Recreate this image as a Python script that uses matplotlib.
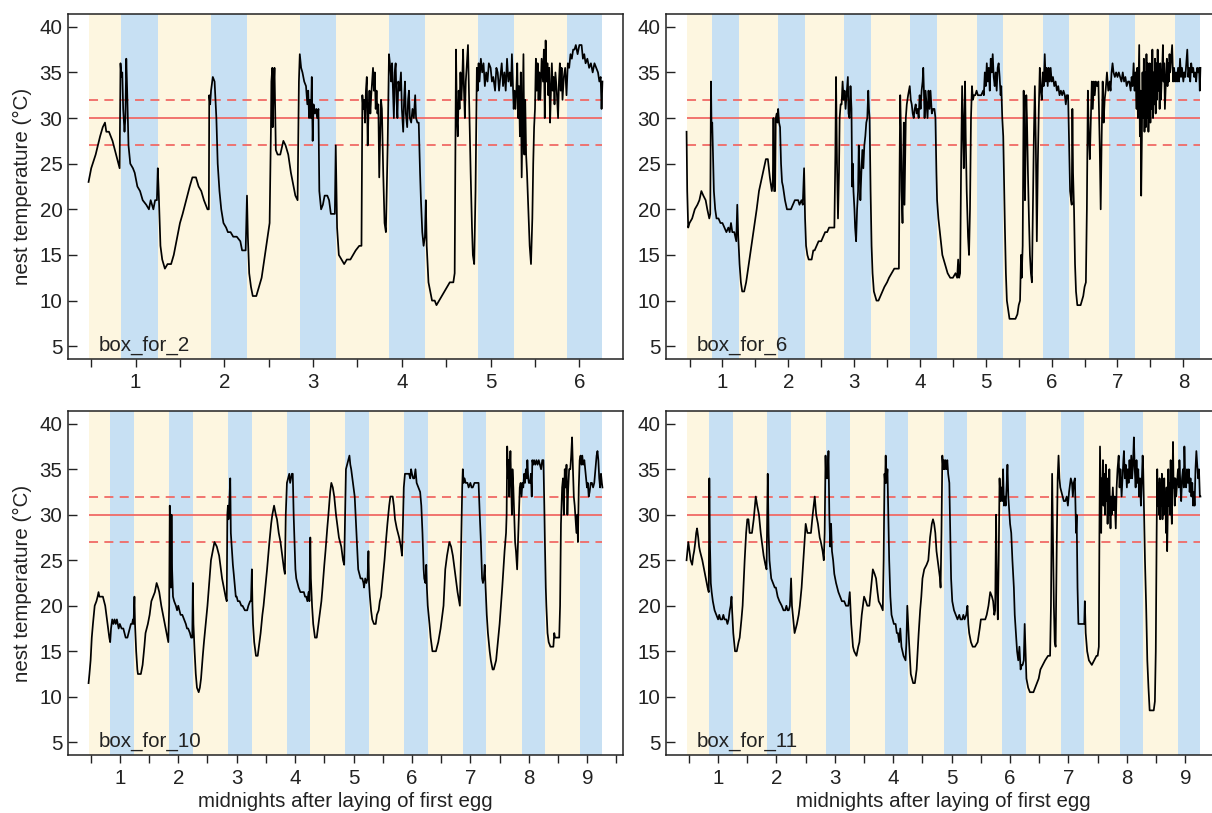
import matplotlib
matplotlib.use('Agg')
import matplotlib.pyplot as plt
import numpy as np

plt.rcParams['font.family'] = ['Liberation Sans', 'DejaVu Sans']

# nest temperature traces, (days after midnight of first egg, degC)
box_for_2 = [
    (0.47, 23.0), (0.50, 24.5), (0.55, 26.0), (0.60, 28.0), (0.63, 29.0), (0.655, 29.5), (0.67, 28.5),
    (0.70, 28.5), (0.74, 27.5), (0.78, 26.0), (0.82, 24.5), (0.83, 36.0), (0.84, 34.5), (0.85, 35.0),
    (0.86, 31.0), (0.875, 28.5), (0.885, 30.0), (0.895, 36.5), (0.905, 33.0), (0.92, 27.0), (0.94, 25.0),
    (0.97, 24.5), (0.99, 24.0), (1.02, 22.5), (1.05, 22.0), (1.08, 21.0), (1.12, 20.5), (1.15, 20.0),
    (1.17, 21.0), (1.20, 20.0), (1.22, 21.0), (1.24, 21.0), (1.25, 24.5), (1.26, 22.0), (1.28, 16.0),
    (1.30, 14.5), (1.33, 13.5), (1.36, 14.0), (1.40, 14.0), (1.43, 15.0), (1.47, 17.0), (1.50, 18.5),
    (1.53, 19.5), (1.57, 21.0), (1.61, 22.5), (1.64, 23.5), (1.68, 23.5), (1.71, 22.5), (1.74, 22.0),
    (1.77, 21.0), (1.81, 20.0), (1.825, 20.0), (1.83, 32.5), (1.84, 31.5), (1.85, 33.0), (1.87, 34.5),
    (1.89, 34.0), (1.91, 30.0), (1.925, 25.0), (1.945, 22.0), (1.965, 20.0), (1.99, 18.5), (2.02, 18.0),
    (2.04, 17.5), (2.07, 17.5), (2.10, 17.0), (2.14, 17.0), (2.18, 16.5), (2.20, 15.5), (2.24, 15.5),
    (2.255, 21.5), (2.265, 17.0), (2.28, 13.0), (2.30, 11.5), (2.32, 10.5), (2.36, 10.5), (2.39, 11.5),
    (2.42, 12.5), (2.45, 14.5), (2.48, 16.5), (2.51, 18.5), (2.525, 29.0), (2.53, 34.0), (2.54, 35.5),
    (2.545, 29.0), (2.555, 33.0), (2.565, 35.5), (2.58, 26.5), (2.60, 26.0), (2.63, 26.0), (2.665, 27.5),
    (2.69, 27.0), (2.72, 26.0), (2.75, 24.0), (2.78, 22.5), (2.80, 21.5), (2.825, 21.0), (2.84, 34.0),
    (2.85, 37.0), (2.865, 35.5), (2.88, 35.0), (2.90, 34.0), (2.92, 33.5), (2.935, 31.5), (2.945, 33.0),
    (2.955, 30.0), (2.965, 32.0), (2.975, 30.0), (2.985, 34.5), (2.995, 27.5), (3.005, 31.5), (3.02, 30.5),
    (3.035, 31.0), (3.045, 30.0), (3.06, 31.0), (3.07, 22.0), (3.09, 20.0), (3.11, 20.5), (3.13, 21.5),
    (3.16, 21.5), (3.18, 21.0), (3.20, 19.5), (3.245, 19.5), (3.255, 27.0), (3.27, 18.0), (3.29, 15.0),
    (3.32, 14.5), (3.35, 14.0), (3.38, 14.5), (3.42, 14.5), (3.45, 15.0), (3.48, 15.5), (3.52, 16.0),
    (3.545, 16.0), (3.555, 32.5), (3.565, 31.0), (3.575, 32.0), (3.585, 29.5), (3.595, 33.0), (3.605, 34.5),
    (3.615, 27.0), (3.625, 31.0), (3.635, 33.0), (3.645, 30.5), (3.655, 32.5), (3.665, 34.0), (3.675, 35.5),
    (3.685, 33.0), (3.695, 35.0), (3.705, 31.0), (3.715, 33.0), (3.725, 30.5), (3.735, 31.5), (3.745, 23.5),
    (3.755, 28.0), (3.765, 32.0), (3.775, 31.0), (3.79, 24.0), (3.805, 18.5), (3.82, 17.5), (3.84, 27.0),
    (3.855, 37.0), (3.87, 35.5), (3.88, 34.0), (3.89, 36.0), (3.90, 33.0), (3.91, 30.0), (3.92, 35.0),
    (3.93, 36.0), (3.94, 32.0), (3.95, 30.0), (3.96, 34.0), (3.975, 33.0), (3.99, 35.0), (4.00, 31.0),
    (4.015, 28.5), (4.025, 32.0), (4.035, 34.0), (4.045, 30.5), (4.06, 29.0), (4.07, 32.0), (4.08, 33.0),
    (4.09, 30.0), (4.105, 29.5), (4.12, 31.0), (4.135, 30.0), (4.15, 32.5), (4.16, 30.0), (4.175, 29.5),
    (4.19, 29.5), (4.205, 24.0), (4.215, 21.0), (4.23, 17.5), (4.245, 16.0), (4.26, 17.0), (4.27, 21.0),
    (4.28, 16.0), (4.30, 12.0), (4.32, 11.0), (4.34, 10.0), (4.37, 10.0), (4.39, 9.5), (4.42, 10.0),
    (4.45, 10.5), (4.48, 11.0), (4.51, 11.5), (4.54, 12.0), (4.58, 12.0), (4.595, 13.0), (4.61, 37.5),
    (4.62, 30.0), (4.63, 28.0), (4.64, 33.0), (4.65, 31.0), (4.66, 35.0), (4.67, 32.0), (4.68, 34.0),
    (4.69, 37.5), (4.70, 33.0), (4.71, 30.0), (4.72, 34.0), (4.73, 35.5), (4.745, 38.0), (4.76, 31.0),
    (4.775, 24.0), (4.79, 18.0), (4.80, 15.0), (4.815, 14.0), (4.83, 22.0), (4.845, 35.5), (4.855, 33.0),
    (4.865, 36.0), (4.875, 34.0), (4.89, 36.5), (4.905, 35.0), (4.92, 36.0), (4.935, 33.5), (4.95, 35.0),
    (4.965, 34.0), (4.98, 36.0), (5.00, 35.5), (5.015, 34.0), (5.03, 34.5), (5.05, 33.0), (5.065, 35.5),
    (5.08, 35.0), (5.095, 33.0), (5.11, 34.5), (5.125, 36.0), (5.14, 33.5), (5.155, 35.0), (5.17, 33.0),
    (5.185, 36.5), (5.20, 34.0), (5.215, 35.0), (5.23, 33.5), (5.24, 37.0), (5.25, 34.0), (5.26, 31.0),
    (5.27, 33.0), (5.28, 31.0), (5.29, 33.0), (5.30, 36.0), (5.31, 30.0), (5.32, 33.5), (5.33, 28.0),
    (5.34, 35.0), (5.35, 23.5), (5.36, 30.0), (5.37, 37.0), (5.38, 26.0), (5.39, 32.0), (5.40, 26.0),
    (5.41, 24.0), (5.425, 20.0), (5.44, 16.0), (5.455, 14.0), (5.47, 19.0), (5.48, 25.0), (5.49, 29.0),
    (5.50, 31.0), (5.51, 36.5), (5.52, 33.0), (5.53, 36.0), (5.54, 32.0), (5.55, 35.0), (5.56, 32.0),
    (5.575, 36.5), (5.59, 34.0), (5.60, 37.5), (5.61, 30.0), (5.62, 38.5), (5.63, 34.0), (5.64, 36.0),
    (5.65, 32.5), (5.66, 35.5), (5.67, 29.5), (5.68, 33.0), (5.69, 36.0), (5.70, 33.0), (5.71, 34.5),
    (5.72, 31.5), (5.73, 35.0), (5.745, 33.0), (5.76, 30.0), (5.77, 34.0), (5.78, 36.0), (5.79, 33.0),
    (5.80, 35.5), (5.81, 32.0), (5.825, 34.5), (5.84, 35.5), (5.855, 32.5), (5.87, 36.0), (5.885, 35.5),
    (5.90, 37.0), (5.915, 36.5), (5.93, 37.5), (5.945, 37.5), (5.96, 38.0), (5.98, 37.0), (6.00, 38.0),
    (6.025, 38.0), (6.04, 36.5), (6.055, 37.0), (6.07, 36.0), (6.09, 36.5), (6.11, 35.5), (6.13, 36.0),
    (6.15, 35.0), (6.17, 36.0), (6.19, 35.5), (6.21, 35.0), (6.225, 34.0), (6.24, 34.5), (6.25, 31.0),
    (6.26, 34.0),
]

box_for_6 = [
    (0.455, 28.5), (0.465, 22.0), (0.48, 18.0), (0.50, 18.5), (0.54, 19.0), (0.58, 20.0), (0.62, 20.5),
    (0.65, 21.0), (0.68, 22.0), (0.71, 21.5), (0.745, 21.0), (0.77, 20.0), (0.80, 19.0), (0.815, 19.5),
    (0.826, 34.0), (0.835, 28.5), (0.845, 29.5), (0.857, 26.0), (0.87, 22.0), (0.89, 20.0), (0.91, 19.0),
    (0.94, 19.0), (0.97, 18.5), (1.00, 18.5), (1.03, 18.0), (1.06, 17.5), (1.09, 18.0), (1.11, 17.5),
    (1.13, 18.5), (1.15, 17.5), (1.18, 17.5), (1.21, 16.5), (1.225, 20.5), (1.24, 17.0), (1.26, 14.0),
    (1.28, 12.0), (1.30, 11.0), (1.33, 11.0), (1.36, 12.0), (1.39, 13.5), (1.42, 15.0), (1.45, 16.5),
    (1.48, 18.0), (1.52, 20.0), (1.555, 22.0), (1.60, 23.5), (1.63, 24.5), (1.66, 25.5), (1.69, 25.5),
    (1.72, 23.5), (1.75, 22.0), (1.765, 23.0), (1.775, 30.0), (1.785, 22.0), (1.80, 22.0), (1.81, 30.0),
    (1.825, 30.5), (1.835, 29.5), (1.846, 31.0), (1.86, 29.5), (1.875, 29.0), (1.89, 25.0), (1.905, 23.0),
    (1.92, 22.5), (1.95, 21.0), (1.98, 20.0), (2.01, 20.0), (2.04, 20.0), (2.07, 20.5), (2.10, 21.0),
    (2.12, 21.0), (2.15, 21.0), (2.17, 20.5), (2.20, 21.0), (2.22, 20.5), (2.24, 24.5), (2.255, 19.0),
    (2.27, 16.0), (2.29, 15.0), (2.31, 14.5), (2.355, 14.5), (2.38, 15.5), (2.40, 15.5), (2.43, 16.0),
    (2.46, 16.5), (2.50, 16.5), (2.53, 17.0), (2.56, 17.5), (2.59, 17.5), (2.62, 18.0), (2.70, 18.0),
    (2.715, 26.0), (2.725, 34.5), (2.74, 25.0), (2.755, 19.0), (2.77, 24.0), (2.78, 30.0), (2.795, 31.5),
    (2.81, 31.5), (2.825, 34.0), (2.84, 32.0), (2.855, 33.0), (2.87, 31.0), (2.885, 32.5), (2.905, 34.5),
    (2.915, 30.5), (2.93, 30.0), (2.945, 33.5), (2.96, 31.0), (2.97, 22.5), (2.98, 25.0), (2.99, 22.0),
    (3.005, 20.0), (3.015, 18.0), (3.03, 16.5), (3.045, 20.0), (3.06, 22.0), (3.07, 27.0), (3.085, 24.0),
    (3.095, 21.0), (3.11, 24.0), (3.125, 26.5), (3.14, 24.5), (3.155, 27.0), (3.17, 28.0), (3.185, 29.5),
    (3.20, 30.0), (3.215, 33.0), (3.225, 31.0), (3.235, 30.0), (3.25, 22.0), (3.265, 16.0), (3.28, 13.0),
    (3.30, 11.0), (3.32, 10.5), (3.34, 10.0), (3.37, 10.0), (3.40, 10.5), (3.43, 11.0), (3.46, 11.5),
    (3.50, 12.0), (3.53, 12.5), (3.57, 13.0), (3.61, 13.5), (3.68, 13.5), (3.69, 24.0), (3.70, 32.5),
    (3.71, 29.0), (3.72, 22.0), (3.735, 18.5), (3.745, 25.0), (3.755, 29.5), (3.765, 20.5), (3.775, 25.0),
    (3.785, 30.0), (3.80, 31.5), (3.82, 32.5), (3.845, 33.5), (3.86, 32.0), (3.875, 31.5), (3.89, 30.5),
    (3.905, 30.0), (3.92, 31.0), (3.935, 31.5), (3.95, 30.5), (3.965, 31.0), (3.98, 30.0), (3.995, 32.5),
    (4.01, 31.0), (4.025, 33.0), (4.04, 34.0), (4.05, 35.5), (4.06, 33.0), (4.07, 30.0), (4.085, 33.0),
    (4.10, 31.5), (4.115, 30.0), (4.13, 33.0), (4.145, 31.0), (4.16, 33.0), (4.18, 30.5), (4.20, 31.0),
    (4.22, 31.0), (4.235, 30.0), (4.25, 24.0), (4.26, 21.0), (4.28, 19.0), (4.31, 17.0), (4.34, 15.0),
    (4.38, 14.0), (4.42, 13.0), (4.46, 12.5), (4.50, 12.5), (4.54, 13.0), (4.565, 12.5), (4.58, 14.5),
    (4.595, 12.5), (4.61, 13.0), (4.625, 25.0), (4.64, 33.5), (4.655, 28.0), (4.665, 24.5), (4.675, 30.0),
    (4.685, 34.0), (4.695, 28.0), (4.71, 22.0), (4.73, 17.0), (4.745, 15.0), (4.76, 20.0), (4.775, 30.0),
    (4.79, 33.5), (4.805, 32.0), (4.82, 32.5), (4.84, 32.5), (4.86, 33.0), (4.88, 32.5), (4.90, 32.5),
    (4.93, 32.5), (4.96, 33.0), (4.97, 32.5), (4.985, 35.0), (5.00, 33.5), (5.015, 36.0), (5.03, 34.0),
    (5.045, 35.5), (5.06, 33.0), (5.075, 36.5), (5.09, 35.0), (5.105, 37.0), (5.12, 34.5), (5.135, 33.5),
    (5.15, 35.0), (5.165, 33.0), (5.18, 35.5), (5.195, 36.0), (5.21, 34.5), (5.225, 32.5), (5.235, 33.5),
    (5.25, 30.0), (5.265, 28.0), (5.28, 22.0), (5.29, 18.0), (5.305, 13.0), (5.32, 10.0), (5.34, 9.0),
    (5.36, 8.0), (5.40, 8.0), (5.45, 8.0), (5.48, 8.5), (5.50, 9.5), (5.52, 10.0), (5.535, 15.0),
    (5.545, 12.5), (5.56, 16.0), (5.575, 33.0), (5.585, 26.0), (5.595, 21.0), (5.605, 27.0), (5.615, 32.5),
    (5.625, 30.0), (5.64, 24.0), (5.655, 19.0), (5.67, 15.0), (5.685, 13.0), (5.70, 12.0), (5.715, 20.0),
    (5.73, 28.0), (5.745, 33.5), (5.76, 27.0), (5.775, 16.5), (5.79, 25.0), (5.805, 31.0), (5.82, 35.5),
    (5.835, 33.0), (5.85, 32.0), (5.865, 35.0), (5.88, 33.5), (5.895, 37.0), (5.91, 34.0), (5.925, 35.5),
    (5.94, 33.5), (5.955, 35.5), (5.97, 34.0), (5.985, 35.5), (6.00, 34.0), (6.02, 34.5), (6.04, 33.5),
    (6.06, 34.0), (6.08, 33.0), (6.10, 33.5), (6.12, 32.5), (6.14, 33.0), (6.16, 32.5), (6.18, 33.0),
    (6.20, 32.5), (6.215, 31.5), (6.23, 32.5), (6.25, 32.5), (6.265, 27.0), (6.28, 22.0), (6.295, 21.0),
    (6.305, 20.5), (6.315, 31.0), (6.325, 24.0), (6.34, 20.0), (6.355, 14.0), (6.37, 11.0), (6.39, 9.5),
    (6.42, 9.5), (6.44, 9.5), (6.46, 10.0), (6.48, 10.5), (6.50, 11.5), (6.52, 12.0), (6.535, 20.0),
    (6.55, 33.0), (6.565, 28.0), (6.58, 25.5), (6.595, 30.0), (6.61, 34.0), (6.625, 31.0), (6.64, 34.0),
    (6.655, 32.5), (6.67, 34.0), (6.69, 33.5), (6.71, 34.0), (6.73, 27.0), (6.745, 20.0), (6.76, 28.0),
    (6.775, 34.0), (6.79, 29.5), (6.805, 32.0), (6.82, 33.0), (6.84, 35.0), (6.86, 33.0), (6.88, 34.0),
    (6.895, 33.0), (6.91, 35.0), (6.925, 36.0), (6.94, 35.0), (6.96, 34.5), (6.98, 35.0), (7.00, 34.5),
    (7.02, 35.0), (7.04, 34.5), (7.06, 34.0), (7.08, 35.0), (7.10, 34.0), (7.12, 34.5), (7.14, 33.5),
    (7.16, 34.0), (7.18, 34.0), (7.20, 33.0), (7.215, 34.5), (7.23, 33.5), (7.245, 36.0), (7.26, 33.0),
    (7.275, 35.0), (7.29, 31.0), (7.30, 35.5), (7.31, 30.0), (7.32, 34.0), (7.33, 38.0), (7.34, 28.0),
    (7.35, 33.0), (7.36, 21.5), (7.37, 27.5), (7.38, 35.0), (7.39, 30.0), (7.40, 36.5), (7.41, 28.5),
    (7.42, 35.0), (7.43, 29.0), (7.44, 37.0), (7.45, 30.0), (7.46, 36.0), (7.47, 28.5), (7.48, 33.0),
    (7.49, 36.0), (7.50, 29.5), (7.51, 35.0), (7.52, 31.0), (7.53, 37.5), (7.54, 30.0), (7.55, 35.0),
    (7.56, 31.5), (7.57, 36.5), (7.58, 30.5), (7.59, 36.0), (7.60, 32.0), (7.61, 37.5), (7.62, 33.0),
    (7.63, 35.5), (7.64, 31.0), (7.65, 36.0), (7.66, 32.0), (7.67, 34.0), (7.68, 35.5), (7.69, 38.0),
    (7.70, 34.0), (7.71, 36.0), (7.72, 31.0), (7.73, 33.0), (7.74, 35.0), (7.75, 36.5), (7.76, 33.5),
    (7.77, 36.0), (7.78, 34.0), (7.79, 37.0), (7.80, 35.0), (7.815, 36.5), (7.83, 38.0), (7.845, 34.0),
    (7.86, 35.5), (7.875, 34.0), (7.89, 35.0), (7.905, 34.0), (7.92, 35.5), (7.935, 34.0), (7.95, 36.5),
    (7.965, 34.5), (7.98, 35.5), (8.00, 34.0), (8.015, 35.0), (8.03, 34.5), (8.045, 36.0), (8.06, 37.5),
    (8.075, 34.5), (8.09, 35.5), (8.105, 34.0), (8.12, 36.0), (8.135, 35.0), (8.15, 35.5), (8.165, 34.5),
    (8.18, 35.0), (8.195, 34.0), (8.21, 35.5), (8.225, 35.0), (8.24, 35.5), (8.25, 33.0), (8.26, 35.5),
]

box_for_10 = [
    (0.465, 11.5), (0.48, 12.5), (0.50, 14.0), (0.52, 16.5), (0.54, 18.0), (0.57, 20.0), (0.60, 20.5),
    (0.62, 21.0), (0.636, 21.5), (0.65, 21.0), (0.68, 21.0), (0.71, 21.0), (0.73, 20.5), (0.75, 20.0),
    (0.77, 19.0), (0.80, 17.5), (0.82, 16.5), (0.835, 16.0), (0.85, 17.5), (0.87, 18.5), (0.89, 18.0),
    (0.91, 18.5), (0.93, 18.0), (0.95, 18.5), (0.98, 17.5), (1.00, 18.0), (1.03, 17.5), (1.06, 17.5),
    (1.08, 17.0), (1.10, 16.5), (1.13, 16.5), (1.15, 17.0), (1.17, 17.5), (1.19, 18.0), (1.21, 18.0),
    (1.225, 18.5), (1.235, 18.0), (1.25, 21.0), (1.26, 18.0), (1.28, 15.0), (1.30, 13.0), (1.31, 12.5),
    (1.36, 12.5), (1.39, 13.5), (1.42, 15.5), (1.44, 17.0), (1.48, 18.0), (1.51, 19.0), (1.54, 20.5),
    (1.57, 21.0), (1.60, 21.5), (1.63, 22.5), (1.655, 22.0), (1.675, 21.5), (1.71, 20.0), (1.74, 19.0),
    (1.77, 18.0), (1.80, 17.0), (1.83, 16.0), (1.845, 20.0), (1.855, 31.0), (1.865, 25.0), (1.875, 22.0),
    (1.885, 30.0), (1.895, 24.0), (1.91, 21.0), (1.93, 20.5), (1.96, 20.0), (1.98, 19.5), (2.00, 20.0),
    (2.02, 19.5), (2.04, 19.0), (2.07, 19.0), (2.10, 18.5), (2.13, 18.0), (2.15, 17.5), (2.17, 17.5),
    (2.20, 17.0), (2.22, 16.5), (2.24, 16.5), (2.25, 22.5), (2.26, 18.0), (2.28, 15.0), (2.30, 12.5),
    (2.32, 11.0), (2.35, 10.5), (2.37, 11.0), (2.39, 12.0), (2.42, 14.5), (2.44, 16.0), (2.47, 18.0),
    (2.50, 20.0), (2.53, 22.5), (2.56, 25.0), (2.59, 26.0), (2.62, 27.0), (2.66, 26.5), (2.68, 26.0),
    (2.70, 25.5), (2.73, 24.0), (2.75, 23.0), (2.78, 22.0), (2.81, 21.0), (2.83, 20.5), (2.84, 30.0),
    (2.85, 31.0), (2.86, 29.5), (2.875, 31.5), (2.89, 34.0), (2.90, 28.0), (2.92, 26.0), (2.935, 24.5),
    (2.95, 23.5), (2.97, 22.0), (2.985, 21.0), (3.00, 21.0), (3.02, 20.5), (3.05, 20.5), (3.08, 20.0),
    (3.10, 20.0), (3.14, 19.5), (3.18, 19.5), (3.20, 20.0), (3.23, 20.5), (3.245, 20.5), (3.26, 24.0),
    (3.27, 20.0), (3.28, 18.0), (3.30, 16.0), (3.33, 14.5), (3.36, 14.5), (3.38, 15.5), (3.41, 17.0),
    (3.44, 19.0), (3.46, 20.0), (3.49, 22.0), (3.52, 24.0), (3.54, 25.5), (3.56, 27.0), (3.59, 29.0),
    (3.61, 30.0), (3.64, 31.0), (3.67, 30.0), (3.69, 29.5), (3.72, 28.0), (3.75, 27.0), (3.77, 26.0),
    (3.79, 25.0), (3.81, 24.0), (3.825, 23.5), (3.84, 30.0), (3.86, 33.5), (3.88, 34.0), (3.90, 34.5),
    (3.915, 33.5), (3.93, 34.0), (3.945, 34.5), (3.96, 34.5), (3.975, 30.0), (3.99, 27.0), (4.005, 24.0),
    (4.02, 23.0), (4.04, 22.5), (4.06, 22.0), (4.09, 21.5), (4.12, 21.5), (4.15, 21.5), (4.17, 21.0),
    (4.19, 21.0), (4.21, 20.5), (4.23, 21.5), (4.245, 20.5), (4.26, 27.5), (4.27, 23.0), (4.29, 20.0),
    (4.31, 18.0), (4.34, 16.5), (4.37, 16.5), (4.40, 18.0), (4.42, 19.0), (4.45, 20.5), (4.47, 22.0),
    (4.50, 24.5), (4.52, 26.0), (4.55, 28.5), (4.57, 30.0), (4.60, 32.5), (4.62, 33.5), (4.645, 33.0),
    (4.67, 32.0), (4.70, 30.0), (4.72, 29.0), (4.75, 27.5), (4.79, 26.5), (4.82, 25.0), (4.84, 24.5),
    (4.855, 30.0), (4.87, 35.0), (4.89, 35.5), (4.91, 36.0), (4.93, 36.5), (4.945, 35.5), (4.96, 35.0),
    (4.98, 34.0), (5.00, 33.0), (5.02, 32.0), (5.035, 30.0), (5.05, 28.0), (5.065, 26.0), (5.08, 24.0),
    (5.10, 23.5), (5.12, 23.0), (5.15, 23.0), (5.17, 22.5), (5.18, 22.0), (5.20, 23.0), (5.22, 22.5),
    (5.24, 23.0), (5.255, 26.0), (5.265, 22.5), (5.28, 21.0), (5.30, 19.5), (5.32, 18.5), (5.35, 18.0),
    (5.38, 18.0), (5.40, 19.0), (5.43, 19.5), (5.45, 20.5), (5.47, 21.0), (5.50, 23.0), (5.53, 25.0),
    (5.56, 27.5), (5.58, 29.0), (5.61, 31.0), (5.63, 32.0), (5.67, 32.0), (5.69, 31.0), (5.71, 29.5),
    (5.74, 28.5), (5.78, 27.5), (5.81, 26.5), (5.83, 25.5), (5.845, 29.0), (5.86, 33.0), (5.88, 34.5),
    (5.90, 34.5), (5.92, 34.5), (5.95, 34.5), (5.97, 34.0), (5.985, 35.0), (6.00, 34.5), (6.02, 34.0),
    (6.04, 34.0), (6.06, 35.0), (6.08, 33.5), (6.11, 33.0), (6.14, 32.5), (6.16, 31.0), (6.18, 28.0),
    (6.20, 24.0), (6.21, 23.0), (6.23, 22.5), (6.245, 24.5), (6.255, 22.0), (6.27, 20.0), (6.30, 18.0),
    (6.32, 16.5), (6.35, 15.0), (6.41, 15.0), (6.45, 16.0), (6.49, 17.5), (6.52, 19.0), (6.54, 20.0),
    (6.57, 24.0), (6.60, 25.5), (6.64, 27.0), (6.67, 26.5), (6.70, 25.5), (6.73, 24.0), (6.75, 23.0),
    (6.78, 21.5), (6.82, 20.0), (6.84, 26.0), (6.86, 33.0), (6.87, 35.0), (6.885, 33.5), (6.90, 34.0),
    (6.92, 33.5), (6.95, 33.5), (6.97, 33.0), (7.00, 33.5), (7.02, 33.0), (7.04, 33.0), (7.07, 33.5),
    (7.10, 33.5), (7.14, 33.5), (7.16, 30.0), (7.18, 27.0), (7.20, 23.0), (7.215, 22.5), (7.23, 23.0),
    (7.245, 24.5), (7.26, 22.0), (7.28, 19.0), (7.30, 17.0), (7.33, 15.0), (7.35, 14.0), (7.38, 13.0),
    (7.40, 13.0), (7.44, 14.0), (7.47, 16.0), (7.50, 18.0), (7.545, 22.0), (7.585, 26.0), (7.61, 28.0),
    (7.62, 30.0), (7.63, 37.5), (7.645, 34.0), (7.655, 36.0), (7.665, 32.0), (7.675, 35.0), (7.685, 37.0),
    (7.70, 33.0), (7.71, 30.0), (7.72, 35.0), (7.735, 33.0), (7.75, 30.0), (7.765, 27.0), (7.78, 26.0),
    (7.80, 24.0), (7.815, 27.0), (7.83, 30.0), (7.845, 33.0), (7.86, 33.5), (7.875, 32.0), (7.89, 33.5),
    (7.905, 33.0), (7.92, 34.5), (7.935, 33.5), (7.95, 35.0), (7.965, 34.0), (7.975, 36.0), (7.99, 34.0),
    (8.00, 33.5), (8.02, 33.5), (8.035, 34.5), (8.05, 32.0), (8.06, 36.0), (8.075, 35.5), (8.09, 36.0),
    (8.11, 35.5), (8.13, 36.0), (8.15, 35.5), (8.17, 36.0), (8.19, 35.5), (8.21, 35.0), (8.23, 36.0),
    (8.25, 36.0), (8.265, 31.0), (8.275, 27.0), (8.29, 22.0), (8.30, 20.0), (8.32, 17.0), (8.34, 16.0),
    (8.37, 15.5), (8.42, 15.5), (8.435, 17.0), (8.45, 16.5), (8.47, 16.5), (8.52, 16.5), (8.535, 20.0),
    (8.55, 29.0), (8.57, 33.0), (8.585, 34.0), (8.60, 30.0), (8.615, 35.0), (8.63, 33.0), (8.645, 35.5),
    (8.66, 30.0), (8.675, 33.0), (8.69, 35.0), (8.71, 35.0), (8.725, 36.5), (8.74, 38.5), (8.755, 35.0),
    (8.77, 32.0), (8.785, 31.0), (8.80, 29.5), (8.815, 28.0), (8.83, 30.0), (8.84, 27.0), (8.855, 33.0),
    (8.87, 36.0), (8.885, 36.5), (8.90, 35.5), (8.915, 36.5), (8.93, 35.5), (8.95, 36.0), (8.965, 35.0),
    (8.98, 34.0), (8.995, 33.0), (9.01, 33.5), (9.025, 32.0), (9.04, 32.5), (9.06, 33.5), (9.08, 33.5),
    (9.10, 33.0), (9.12, 33.5), (9.14, 35.0), (9.16, 36.5), (9.175, 37.0), (9.19, 36.0), (9.205, 34.0),
    (9.22, 33.0), (9.235, 34.5), (9.25, 33.5), (9.26, 33.0),
]

box_for_11 = [
    (0.46, 25.0), (0.475, 26.0), (0.49, 27.0), (0.51, 26.0), (0.53, 25.0), (0.556, 24.5), (0.575, 25.5),
    (0.59, 26.0), (0.61, 27.0), (0.625, 28.0), (0.64, 28.5), (0.66, 27.5), (0.675, 26.5), (0.69, 26.0),
    (0.71, 25.5), (0.73, 25.0), (0.76, 24.0), (0.79, 23.0), (0.82, 22.0), (0.84, 21.5), (0.85, 34.0),
    (0.86, 27.0), (0.875, 22.5), (0.89, 21.5), (0.91, 20.5), (0.94, 19.5), (0.97, 19.0), (1.00, 18.5),
    (1.02, 19.0), (1.04, 18.5), (1.07, 18.5), (1.09, 19.0), (1.11, 18.5), (1.14, 18.5), (1.16, 18.0),
    (1.18, 18.5), (1.20, 19.5), (1.215, 20.0), (1.23, 21.0), (1.24, 19.5), (1.26, 17.0), (1.29, 15.0),
    (1.32, 15.0), (1.35, 16.0), (1.37, 16.5), (1.40, 18.5), (1.42, 20.0), (1.44, 23.0), (1.455, 25.0),
    (1.48, 28.0), (1.50, 29.5), (1.52, 29.5), (1.54, 28.0), (1.58, 28.0), (1.61, 29.5), (1.63, 31.0),
    (1.645, 32.0), (1.67, 31.0), (1.70, 30.0), (1.73, 28.0), (1.75, 27.0), (1.78, 25.5), (1.81, 24.5),
    (1.83, 24.0), (1.85, 34.5), (1.865, 28.0), (1.88, 25.0), (1.91, 23.0), (1.94, 22.5), (1.97, 22.0),
    (1.99, 22.0), (2.02, 21.0), (2.05, 20.5), (2.09, 20.0), (2.12, 19.5), (2.15, 19.5), (2.17, 20.0),
    (2.19, 19.5), (2.21, 19.5), (2.23, 20.0), (2.25, 23.0), (2.265, 20.0), (2.28, 19.0), (2.31, 17.0),
    (2.33, 17.5), (2.35, 18.0), (2.38, 19.0), (2.40, 20.0), (2.43, 22.0), (2.45, 24.0), (2.48, 27.0),
    (2.50, 29.0), (2.53, 28.0), (2.59, 28.0), (2.62, 30.0), (2.655, 32.0), (2.68, 30.0), (2.71, 29.0),
    (2.74, 27.5), (2.76, 27.0), (2.79, 26.0), (2.81, 25.0), (2.825, 28.0), (2.84, 36.5), (2.85, 34.0),
    (2.86, 35.0), (2.875, 34.0), (2.89, 37.0), (2.905, 30.0), (2.92, 26.5), (2.935, 29.0), (2.95, 26.0),
    (2.97, 25.0), (2.99, 23.5), (3.02, 22.5), (3.06, 21.5), (3.09, 21.0), (3.12, 20.5), (3.16, 20.5),
    (3.19, 20.0), (3.23, 20.0), (3.255, 21.5), (3.265, 20.0), (3.28, 18.0), (3.31, 15.5), (3.33, 15.0),
    (3.37, 14.5), (3.40, 15.5), (3.42, 16.0), (3.44, 17.5), (3.46, 19.0), (3.50, 21.0), (3.53, 20.5),
    (3.555, 20.0), (3.59, 20.0), (3.62, 22.0), (3.65, 24.0), (3.68, 23.5), (3.705, 23.0), (3.73, 21.5),
    (3.75, 20.5), (3.79, 20.0), (3.82, 19.5), (3.835, 25.0), (3.85, 34.5), (3.86, 33.5), (3.87, 36.5),
    (3.88, 33.5), (3.89, 34.0), (3.90, 35.0), (3.915, 30.0), (3.93, 25.0), (3.95, 21.0), (3.97, 19.0),
    (4.01, 18.0), (4.04, 18.0), (4.06, 17.0), (4.08, 17.0), (4.10, 16.0), (4.12, 17.5), (4.14, 15.5),
    (4.175, 14.5), (4.21, 14.0), (4.225, 16.0), (4.24, 20.0), (4.255, 18.0), (4.27, 16.0), (4.30, 12.5),
    (4.34, 11.5), (4.37, 11.5), (4.40, 13.0), (4.435, 17.0), (4.46, 19.5), (4.48, 21.0), (4.50, 23.0),
    (4.53, 24.0), (4.57, 24.5), (4.60, 25.0), (4.63, 27.5), (4.66, 29.0), (4.68, 29.5), (4.70, 29.0),
    (4.72, 28.0), (4.74, 26.0), (4.76, 25.0), (4.78, 24.0), (4.80, 23.0), (4.81, 22.0), (4.825, 28.0),
    (4.84, 36.5), (4.855, 35.0), (4.87, 36.0), (4.88, 35.0), (4.895, 36.0), (4.91, 35.0), (4.925, 36.0),
    (4.94, 34.5), (4.96, 33.5), (4.975, 28.0), (4.99, 23.0), (5.01, 20.5), (5.04, 19.5), (5.07, 19.0),
    (5.10, 18.5), (5.13, 19.0), (5.15, 18.5), (5.18, 18.5), (5.20, 19.0), (5.22, 18.5), (5.25, 19.0),
    (5.27, 20.0), (5.285, 18.0), (5.30, 17.0), (5.33, 16.0), (5.36, 15.5), (5.40, 15.5), (5.445, 16.0),
    (5.48, 17.5), (5.50, 18.5), (5.52, 18.5), (5.55, 18.5), (5.575, 18.5), (5.60, 19.0), (5.63, 20.0),
    (5.66, 21.5), (5.69, 21.0), (5.71, 20.5), (5.73, 19.0), (5.745, 19.5), (5.76, 30.0), (5.775, 22.0),
    (5.79, 18.5), (5.805, 25.0), (5.82, 34.0), (5.835, 31.5), (5.85, 33.0), (5.865, 31.5), (5.88, 35.0),
    (5.895, 31.0), (5.91, 32.0), (5.925, 31.0), (5.94, 33.0), (5.955, 35.5), (5.97, 32.0), (5.99, 30.0),
    (6.00, 29.0), (6.02, 28.0), (6.04, 25.0), (6.065, 22.0), (6.08, 19.0), (6.10, 17.0), (6.12, 15.0),
    (6.14, 14.0), (6.16, 15.5), (6.18, 13.0), (6.20, 13.5), (6.215, 13.5), (6.235, 14.0), (6.25, 18.0),
    (6.265, 15.0), (6.28, 12.0), (6.31, 11.0), (6.34, 10.5), (6.40, 10.5), (6.43, 11.0), (6.46, 11.5),
    (6.49, 12.0), (6.52, 13.0), (6.56, 13.5), (6.60, 14.0), (6.65, 14.5), (6.685, 14.5), (6.70, 20.0),
    (6.72, 34.5), (6.735, 27.0), (6.75, 20.0), (6.765, 16.0), (6.78, 15.5), (6.80, 27.0), (6.815, 34.0),
    (6.83, 36.5), (6.845, 34.0), (6.86, 33.0), (6.88, 32.5), (6.90, 32.0), (6.92, 31.5), (6.945, 31.5),
    (6.97, 32.0), (6.99, 31.0), (7.01, 32.5), (7.04, 34.0), (7.06, 33.5), (7.075, 32.0), (7.09, 33.5),
    (7.11, 34.0), (7.12, 31.0), (7.13, 28.0), (7.14, 30.0), (7.155, 22.0), (7.17, 18.0), (7.20, 18.0),
    (7.24, 18.0), (7.27, 18.0), (7.28, 20.5), (7.295, 17.0), (7.32, 15.0), (7.35, 14.0), (7.40, 13.5),
    (7.44, 14.0), (7.48, 14.5), (7.50, 14.5), (7.52, 15.5), (7.53, 28.0), (7.54, 37.5), (7.55, 33.0),
    (7.56, 28.0), (7.57, 34.0), (7.58, 32.0), (7.59, 36.0), (7.60, 31.0), (7.61, 34.5), (7.625, 30.0),
    (7.64, 35.5), (7.65, 31.5), (7.66, 34.0), (7.67, 29.0), (7.68, 33.0), (7.69, 30.0), (7.70, 35.0),
    (7.71, 31.0), (7.72, 28.5), (7.73, 32.0), (7.74, 30.0), (7.76, 33.0), (7.775, 30.5), (7.79, 32.0),
    (7.81, 28.5), (7.825, 33.0), (7.84, 35.0), (7.86, 36.5), (7.875, 33.0), (7.89, 35.0), (7.91, 32.0),
    (7.925, 34.0), (7.94, 36.0), (7.95, 37.0), (7.965, 34.0), (7.98, 35.5), (8.00, 33.0), (8.015, 35.0),
    (8.03, 33.5), (8.045, 36.0), (8.06, 34.0), (8.075, 36.5), (8.09, 34.0), (8.105, 35.5), (8.12, 38.5),
    (8.135, 35.0), (8.15, 33.0), (8.165, 36.0), (8.18, 33.5), (8.195, 35.0), (8.21, 32.0), (8.225, 34.0),
    (8.24, 31.0), (8.255, 33.5), (8.27, 36.5), (8.28, 35.0), (8.295, 30.0), (8.31, 25.0), (8.33, 20.0),
    (8.35, 14.0), (8.37, 11.0), (8.39, 8.5), (8.46, 8.5), (8.48, 9.5), (8.495, 15.0), (8.51, 28.0),
    (8.52, 35.0), (8.53, 31.0), (8.54, 33.5), (8.55, 30.0), (8.56, 34.0), (8.57, 29.5), (8.58, 33.0),
    (8.59, 31.0), (8.60, 34.5), (8.61, 29.5), (8.62, 33.0), (8.63, 30.0), (8.64, 34.0), (8.65, 31.0),
    (8.66, 32.0), (8.67, 28.0), (8.68, 33.0), (8.69, 26.0), (8.70, 30.0), (8.71, 35.0), (8.72, 31.0),
    (8.73, 33.5), (8.74, 30.0), (8.75, 36.0), (8.76, 31.0), (8.77, 29.0), (8.78, 33.0), (8.79, 38.0),
    (8.80, 33.0), (8.81, 34.0), (8.82, 31.0), (8.83, 34.0), (8.845, 32.0), (8.86, 33.5), (8.875, 35.0),
    (8.89, 33.0), (8.90, 36.0), (8.915, 33.5), (8.93, 31.5), (8.945, 34.0), (8.96, 35.0), (8.975, 33.0),
    (8.985, 37.5), (9.00, 34.0), (9.015, 33.0), (9.03, 35.0), (9.045, 33.5), (9.06, 35.0), (9.075, 32.5),
    (9.09, 34.0), (9.105, 32.0), (9.12, 33.5), (9.135, 31.0), (9.15, 32.5), (9.16, 31.0), (9.175, 35.0),
    (9.19, 37.0), (9.205, 35.5), (9.22, 34.0), (9.235, 35.0), (9.25, 32.0), (9.26, 32.0),
]

# sunset / sunrise in days, one pair per night
sunset = [0.84, 1.845, 2.85, 3.855, 4.86, 5.865, 6.87, 7.875, 8.88]
sunrise = [1.25, 2.255, 3.26, 4.26, 5.265, 6.27, 7.27, 8.27, 9.26]

boxes = [('box_for_2', box_for_2), ('box_for_6', box_for_6),
         ('box_for_10', box_for_10), ('box_for_11', box_for_11)]

target_temp = 30
target_band = [27, 32]

day_col = '#fdf6e0'
night_col = '#c7e0f3'
line_red = '#f06a66'
ink = '#222222'
fs = 14.8

W, H = 1212, 813
fig = plt.figure(figsize=(W / 100, H / 100), dpi=100)
# pixel boxes (left, top, width, height); right column runs past the edge
px_boxes = [(68, 14, 555, 345), (666, 14, 555, 345),
            (68, 411, 555, 344), (666, 411, 555, 344)]

for i, ((name, pts), (l, t, w, h)) in enumerate(zip(boxes, px_boxes)):
    ax = fig.add_axes([l / W, 1 - (t + h) / H, w / W, h / H])
    time = np.array([p[0] for p in pts])
    temp = np.array([p[1] for p in pts])
    t0, t1 = time[0], time[-1]

    # day / night shading
    start = t0
    for ss, sr in zip(sunset, sunrise):
        if ss >= t1:
            break
        ax.axvspan(start, ss, color=day_col, lw=0, zorder=0)
        ax.axvspan(ss, min(sr, t1), color=night_col, lw=0, zorder=0)
        start = sr
    if start < t1:
        ax.axvspan(start, t1, color=day_col, lw=0, zorder=0)

    ax.hlines(target_temp, t0, t1, color=line_red, lw=1.3, zorder=2)
    ax.hlines(target_band, t0, t1, color=line_red, lw=1.3, linestyles=(0, (5, 3.5)), zorder=2)
    ax.plot(time, temp, color='black', lw=1.25, zorder=3)

    pad = 0.04 * (t1 - t0)
    ax.set_xlim(t0 - pad, t1 + pad)
    ax.set_ylim(3.6, 41.4)

    ticks = np.arange(0.5, t1 + pad, 0.5)
    ax.set_xticks(ticks)
    ax.set_xticklabels([str(int(v)) if v == int(v) else '' for v in ticks])
    ax.set_yticks(range(5, 41, 5))

    ax.tick_params(axis='x', direction='out', length=6, width=1, pad=4, labelsize=fs,
                   colors=ink)
    ax.tick_params(axis='y', direction='in', length=6.5, width=1, pad=4, labelsize=fs,
                   colors=ink)
    for s in ax.spines.values():
        s.set_linewidth(1.1)
        s.set_color(ink)

    ax.text(0.055, 0.04, name, transform=ax.transAxes, ha='left', va='center',
            fontsize=fs, color=ink, zorder=4)

    if i % 2 == 0:
        fig.text(22 / W, 1 - (t + h / 2) / H, 'nest temperature (°C)', rotation=90,
                 ha='center', va='center', fontsize=fs, color=ink)
    if i >= 2:
        fig.text((l + w / 2) / W, 1 - 801 / H, 'midnights after laying of first egg',
                 ha='center', va='center', fontsize=fs, color=ink)

fig.savefig('out.png', dpi=100)
